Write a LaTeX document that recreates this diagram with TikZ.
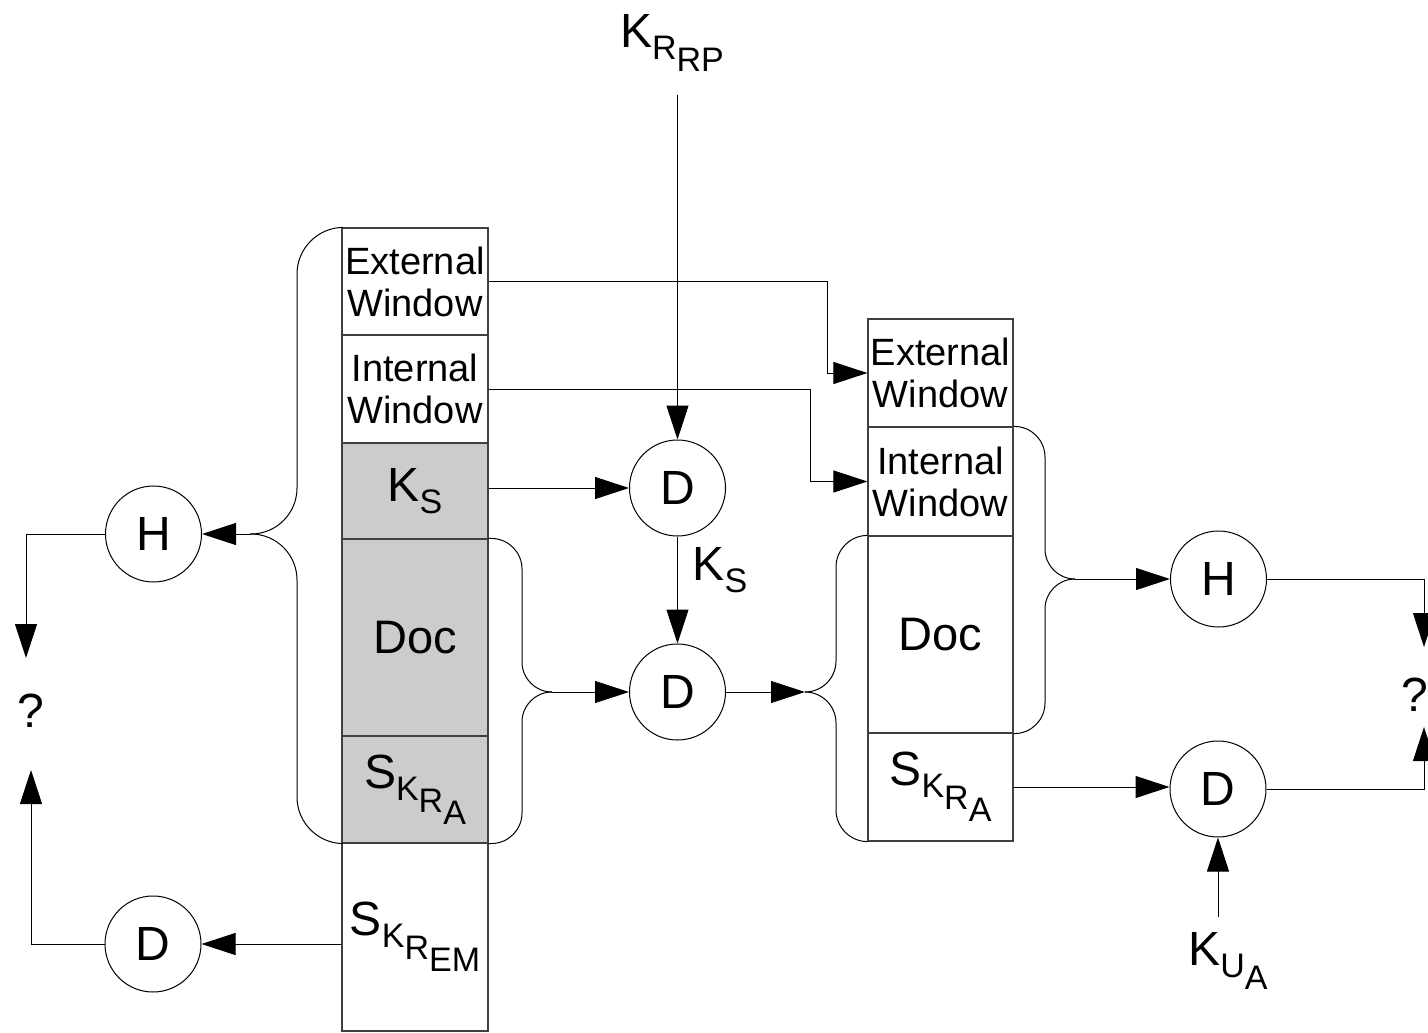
\documentclass[tikz,border=0pt]{standalone}
\usepackage{fontspec}
\setmainfont{Liberation Sans}
\usetikzlibrary{arrows.meta}
\newcommand\bigf{\fontsize{48}{52}\selectfont}
\newcommand\docf{\fontsize{47}{50}\selectfont}
\newcommand\winf{\fontsize{38}{42}\selectfont}
\newcommand\subf{\fontsize{34}{37}\selectfont}
\newcommand\lo[1]{\raisebox{-12pt}{\subf #1}}
\begin{document}
\begin{tikzpicture}[x=1pt,y=-1pt,
 arr/.style={line width=1pt,-{Triangle[length=34pt,width=22pt]}},
 box/.style={draw=black!75,line width=1.2pt,inner sep=0pt,minimum width=146pt,align=center},
 rbox/.style={box,minimum width=145pt},
 gbox/.style={box,fill=gray!40},
 circ/.style={draw,circle,line width=1pt,minimum size=96pt,inner sep=0pt,font=\bigf},
 brace/.style={line width=1pt},
 lbl/.style={inner sep=0pt,font=\bigf}]
\useasboundingbox (0,0) rectangle (1428,1033);
\clip (0,0) rectangle (1428,1033);
% left column
\node[box,minimum height=107pt,font=\winf] (lew) at (415,281.5) {External\\Window};
\node[box,minimum height=108pt,font=\winf] (liw) at (415,389) {Internal\\Window};
\node[gbox,minimum height=96pt,font=\bigf] (lks) at (415,491) {K\lo{S}};
\node[gbox,minimum height=197pt,font=\docf] (ldoc) at (415,637.5) {Doc};
\node[gbox,minimum height=107pt,font=\bigf] (lsa) at (415,789.5) {S\lo{K\lo{R\lo{A}}}};
\node[box,minimum height=188pt,font=\bigf] (lsem) at (415,937) {S\lo{K\lo{R\lo{EM}}}};
% right column
\node[rbox,minimum height=108pt,font=\winf] (rew) at (940.5,373) {External\\Window};
\node[rbox,minimum height=109pt,font=\winf] (riw) at (940.5,481.5) {Internal\\Window};
\node[rbox,minimum height=197pt,font=\docf] (rdoc) at (940.5,634.5) {Doc};
\node[rbox,minimum height=108pt,font=\bigf] (rsa) at (940.5,787) {S\lo{K\lo{R\lo{A}}}};
% circles
\node[circ] (hL) at (153.5,534) {H};
\node[circ] (dL) at (153,944) {D};
\node[circ] (dT) at (677.5,488) {D};
\node[circ] (dM) at (677.5,692) {D};
\node[circ] (hR) at (1218.5,579) {H};
\node[circ] (dR) at (1218,789) {D};
% labels
\node[lbl] (kRRP) at (672,43) {K\lo{R\lo{RP}}};
\node[lbl] (kS2) at (720,570) {K\lo{S}};
\node[lbl] (kUA) at (1228,961) {K\lo{U\lo{A}}};
\node[lbl] (qL) at (31,711) {?};
\node[lbl] (qR) at (1415,695) {?};
% coordinates
\coordinate (tipL) at (250,534);
\coordinate (tipM) at (552,692);
\coordinate (tipR) at (805,692);
\coordinate (tipRR) at (1075,579);
\coordinate (qLtop) at (26,658);
\coordinate (qLbot) at (31,770);
\coordinate (qRtop) at (1424,647);
\coordinate (qRbot) at (1424,727);
\coordinate (c1) at (827,0);
\coordinate (c2) at (810,0);
% braces
\draw[brace,rounded corners=46pt] (lew.north west) -- (297,228) -- (297,534) -- (tipL);
\draw[brace,rounded corners=46pt] (tipL) -- (297,534) -- (297,843) -- (lsa.south west);
\draw[brace,rounded corners=30pt] (ldoc.north east) -- (522,539) -- (522,692) -- (tipM);
\draw[brace,rounded corners=30pt] (tipM) -- (522,692) -- (522,843) -- (lsa.south east);
\draw[brace,rounded corners=31pt] (rdoc.north west) -- (836,536) -- (836,692) -- (tipR);
\draw[brace,rounded corners=31pt] (tipR) -- (836,692) -- (836,841) -- (rsa.south west);
\draw[brace,rounded corners=30pt] (riw.north east) -- (1045,427) -- (1045,579) -- (tipRR);
\draw[brace,rounded corners=30pt] (tipRR) -- (1045,579) -- (1045,733) -- (rdoc.south east);
% connectors
\draw[arr] (lew.east) -| (c1 |- rew.west) -- (rew.west);
\draw[arr] (liw.east) -| (c2 |- riw.west) -- (riw.west);
\draw[arr] (lks.east |- dT.west) -- (dT.west);
\draw[arr,shorten <=23pt] (dT.north |- kRRP.south) -- (dT.north);
\draw[arr] (dT.south) -- (dM.north);
\draw[arr] (tipL) -- (hL.east);
\draw[arr] (hL.west) -| (qLtop);
\draw[arr] (lsem.west |- dL.east) -- (dL.east);
\draw[arr] (dL.west) -| (qLbot);
\draw[arr] (tipM) -- (dM.west);
\draw[arr] (dM.east) -- (tipR);
\draw[arr] (tipRR) -- (hR.west);
\draw[arr] (hR.east) -| (qRtop);
\draw[arr] (rsa.east) -- (rsa.east -| dR.west);
\draw[arr] (dR.east) -| (qRbot);
\draw[arr,shorten <=15pt] (dR.south |- kUA.north) -- (dR.south);
\end{tikzpicture}
\end{document}
